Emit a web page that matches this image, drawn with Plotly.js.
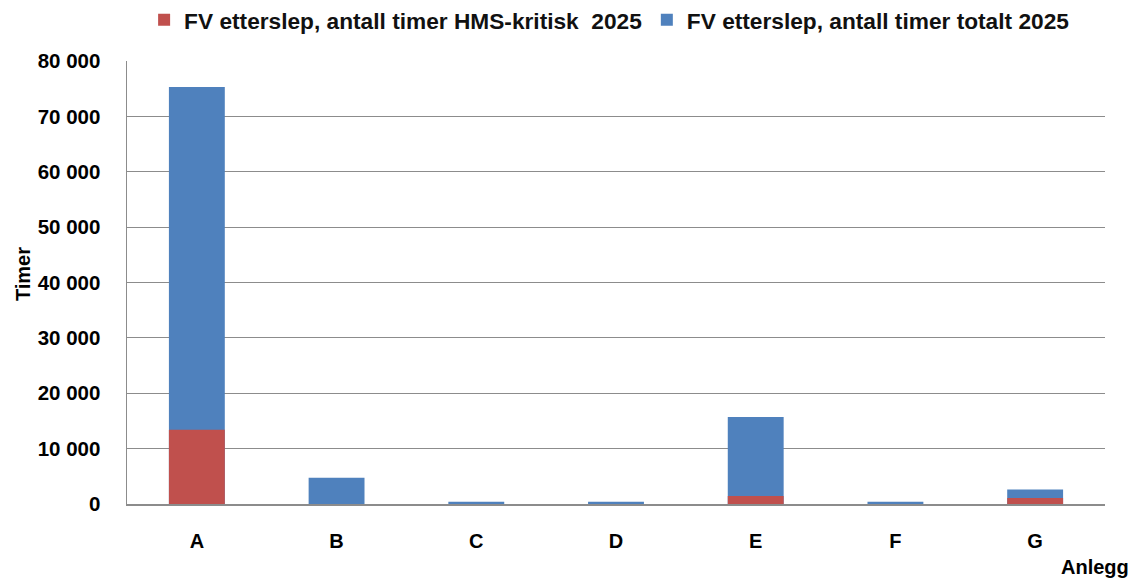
<!DOCTYPE html>
<html>
<head>
<meta charset="utf-8">
<script src="https://cdn.plot.ly/plotly-3.0.1.min.js"></script>
<style>html,body{margin:0;padding:0;background:#fff;}#chart{width:1135px;height:579px;}</style>
</head>
<body>
<div id="chart"></div>
<script>
const categories = ["A", "B", "C", "D", "E", "F", "G"];
const hmsKritisk = [13400, 0, 0, 0, 1450, 0, 1100];
const totalt = [75300, 4750, 400, 400, 15700, 400, 2600];
const yTicks = [0, 10000, 20000, 30000, 40000, 50000, 60000, 70000, 80000];
const seriesNames = ["FV etterslep, antall timer HMS-kritisk  2025", "FV etterslep, antall timer totalt 2025"];
const yTitle = "Timer";
const xTitle = "Anlegg";

const font = "Liberation Sans, Arial, sans-serif";
const boldFont = (size) => ({family: font, size: size, color: "#000", weight: "bold"});

const traces = [
  {
    type: "bar", x: categories, y: totalt, name: seriesNames[1],
    marker: {color: "#4F81BD"}, width: 0.4, legendrank: 2, hoverinfo: "y"
  },
  {
    type: "bar", x: categories, y: hmsKritisk, name: seriesNames[0],
    marker: {color: "#C0504D"}, width: 0.4, legendrank: 1, hoverinfo: "y"
  }
];

const layout = {
  width: 1135, height: 579,
  margin: {l: 127, r: 30, t: 61, b: 75, autoexpand: false},
  barmode: "overlay",
  separators: ", ",
  paper_bgcolor: "#fff", plot_bgcolor: "#fff",
  font: {family: font, color: "#000", size: 14},
  showlegend: true,
  legend: {
    orientation: "h", x: 0.0175, xanchor: "left", y: 1.0925, yanchor: "middle",
    font: {family: font, size: 22.7, color: "#111", weight: "bold"},
    traceorder: "normal", tracegroupgap: 0
  },
  xaxis: {
    type: "category", categoryorder: "array", categoryarray: categories,
    showgrid: false, showline: true, linecolor: "#8c8c8c", linewidth: 1.5,
    ticks: "", tickfont: boldFont(20),
    ticklabelstandoff: 18, zeroline: false
  },
  yaxis: {
    range: [0, 80000], tickvals: yTicks, tickformat: ",d",
    showgrid: true, gridcolor: "#8c8c8c", gridwidth: 1.2,
    showline: true, linecolor: "#8c8c8c", linewidth: 1.5,
    zeroline: false, ticks: "",
    tickfont: boldFont(20.5),
    ticklabelstandoff: 21
  },
  annotations: [
    {text: xTitle, xref: "paper", yref: "paper", x: 1.0266, y: -0.142, xanchor: "right", yanchor: "middle",
     showarrow: false, font: boldFont(20)},
    {text: yTitle, xref: "paper", yref: "paper", x: -0.1063, y: 0.519, xanchor: "center", yanchor: "middle",
     textangle: -90, showarrow: false, font: boldFont(20)}
  ]
};

Plotly.newPlot("chart", traces, layout, {displayModeBar: false, staticPlot: true});
</script>
</body>
</html>
